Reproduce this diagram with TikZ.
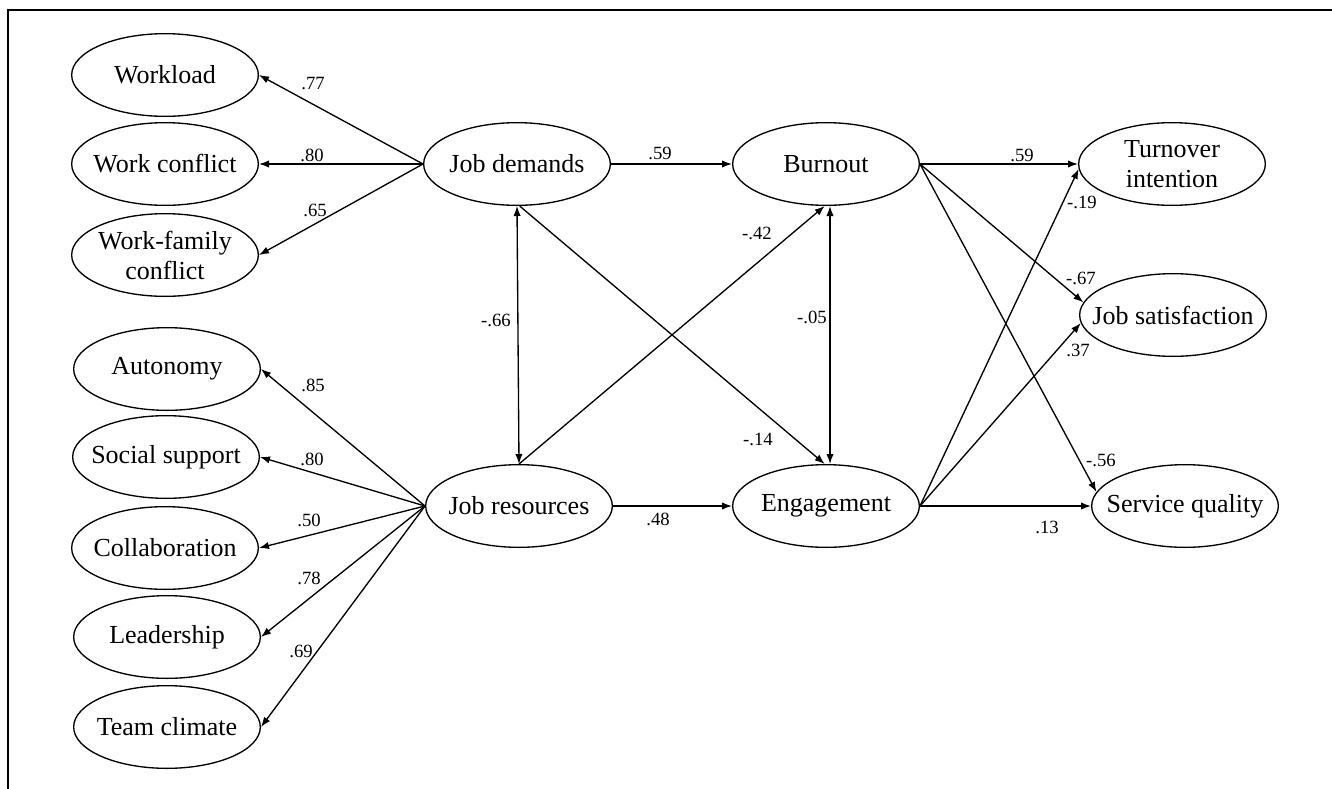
\documentclass[tikz,border=0pt]{standalone}
\usepackage{fontspec}
\setmainfont{Liberation Serif}
\usetikzlibrary{shapes.geometric,arrows.meta}

\tikzset{every picture/.style={line width=1pt}}
\tikzset{
  latent/.style={draw, ellipse, minimum width=140pt, minimum height=62pt, inner xsep=-25pt, inner ysep=-6pt, align=center, font=\fontsize{19.5}{22.5}\selectfont},
  coef/.style={font=\fontsize{14}{16}\selectfont, inner sep=0pt},
  effect/.style={-{Latex[length=7.5pt,width=5.5pt]}},
  covar/.style={{Latex[length=7.5pt,width=5.5pt]}-{Latex[length=7.5pt,width=5.5pt]}}
}

\begin{document}
\begin{tikzpicture}[x=0.75pt,y=0.75pt,yscale=-1,xscale=1]
\useasboundingbox (0,0) rectangle (1332,789);

%Frame
\draw [line width=1.2pt] (8,789) -- (8,10) -- (1332,10) ;

%Shape: Ellipse (demand indicators)
\node [latent] (wl) at (165,75) {Workload};
\node [latent] (wc) at (165,164) {Work conflict};
\node [latent] (wf) at (165,255) {Work-family\\conflict};
%Shape: Ellipse (resource indicators)
\node [latent] (au) at (167,369) {Autonomy};
\node [latent] (ss) at (166,457) {Social support};
\node [latent] (co) at (165,548) {Collaboration};
\node [latent] (le) at (167,637) {Leadership};
\node [latent] (tc) at (167,727) {Team climate};
%Shape: Ellipse (latent factors)
\node [latent] (jd) at (517,164) {Job demands};
\node [latent] (jr) at (519,506) {Job resources};
\node [latent] (bo) at (826,164) {Burnout};
\node [latent] (en) at (826,506) {Engagement};
%Shape: Ellipse (outcomes)
\node [latent] (ti) at (1172,164) {Turnover\\intention};
\node [latent] (js) at (1173,315) {Job satisfaction};
\node [latent] (sq) at (1185,506) {Service quality};

%Straight Lines (loadings)
\draw [effect] (jd.west) -- (wl.east) ;
\draw [effect] (jd.west) -- (wc.east) ;
\draw [effect] (jd.west) -- (wf.east) ;
\draw [effect] (jr.west) -- (au.east) ;
\draw [effect] (jr.west) -- (ss.east) ;
\draw [effect] (jr.west) -- (co.east) ;
\draw [effect] (jr.west) -- (le.east) ;
\draw [effect] (jr.west) -- (tc.east) ;

%Straight Lines (structural paths)
\draw [effect] (jd.east) -- (bo.west) ;
\draw [effect] (jr.east) -- (en.west) ;
\draw [covar] (jd.south) -- (jr.north) ;
\draw [covar] ([xshift=3pt]bo.south) -- ([xshift=3pt]en.north) ;
\draw [effect] ([xshift=2pt]jd.south) -- ([xshift=-1pt]en.north) ;
\draw [effect] (jr.north) -- ([xshift=-1pt]bo.south) ;
\draw [effect] (bo.east) -- (ti.west) ;
\draw [effect] (bo.east) -- (js.172) ;
\draw [effect] (bo.east) -- (sq.171) ;
\draw [effect] (en.east) -- (ti.183) ;
\draw [effect] (en.east) -- (js.185) ;
\draw [effect] (en.east) -- (sq.west) ;

% Text Node
\node [coef] (c77) at (313,84) {.77};
\node [coef] (c80a) at (312,155) {.80};
\node [coef] (c65) at (315,210) {.65};
\node [coef] (c85) at (313,385) {.85};
\node [coef] (c80b) at (312,459) {.80};
\node [coef] (c50) at (309,520) {.50};
\node [coef] (c78) at (309,578) {.78};
\node [coef] (c69) at (301,651) {.69};
% Text Node
\node [coef] (c59a) at (660,153) {.59};
\node [coef] (c66) at (496,320) {-.66};
\node [coef] (c42) at (757,233) {-.42};
\node [coef] (c05) at (812,317) {-.05};
\node [coef] (c14) at (758,439) {-.14};
\node [coef] (c48) at (658,519) {.48};
% Text Node
\node [coef] (c59b) at (1022,155) {.59};
\node [coef] (c19) at (1082,202) {-.19};
\node [coef] (c67) at (1081,278) {-.67};
\node [coef] (c37) at (1078,350) {.37};
\node [coef] (c56) at (1101,460) {-.56};
\node [coef] (c13) at (1047,527) {.13};

\end{tikzpicture}
\end{document}
